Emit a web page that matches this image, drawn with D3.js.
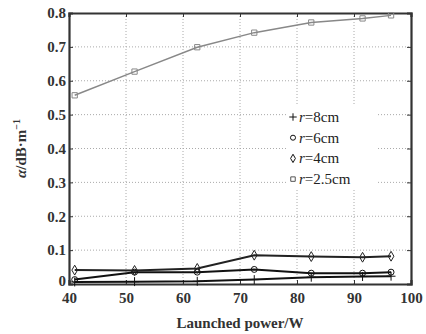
<!DOCTYPE html>
<html>
<head>
<meta charset="utf-8">
<script src="https://cdn.jsdelivr.net/npm/d3@7"></script>
<style>
body{margin:0;background:#fff;}
svg{display:block;}
</style>
</head>
<body>
<svg id="svg" width="426" height="334"></svg>
<script>
// launched power (W) for each measurement
var power=[41,51.5,62.5,72.5,82.5,91.5,96.5];
var r8=[0.006,0.007,0.008,0.013,0.020,0.022,0.023];
var r6=[0.013,0.035,0.035,0.043,0.032,0.032,0.035];
var r4=[0.041,0.040,0.046,0.085,0.081,0.079,0.082];
var r25=[0.557,0.627,0.699,0.742,0.772,0.784,0.793];
var names=["8cm","6cm","4cm","2.5cm"];
var xTicks=[40,50,60,70,80,90,100];
var yTicks=[0,0.1,0.2,0.3,0.4,0.5,0.6,0.7,0.8];

var W=426,H=334,m={l:69,r:15,t:13,b:50};
var svg=d3.select("#svg");
var x=d3.scaleLinear().domain([40,100]).range([m.l,W-m.r]);
var y=d3.scaleLinear().domain([0,0.8]).range([H-m.b,m.t]);
var font="'Liberation Serif','Times New Roman',serif";

// grid
svg.append("g").selectAll("line").data(xTicks.slice(1,-1)).enter().append("line")
  .attr("x1",function(d){return x(d)}).attr("x2",function(d){return x(d)})
  .attr("y1",y(0)).attr("y2",y(0.8))
  .attr("stroke","#aaa").attr("stroke-width",1).attr("stroke-dasharray","1,2");
svg.append("g").selectAll("line").data(yTicks.slice(1,-1)).enter().append("line")
  .attr("y1",function(d){return y(d)}).attr("y2",function(d){return y(d)})
  .attr("x1",x(40)).attr("x2",x(100))
  .attr("stroke","#aaa").attr("stroke-width",1).attr("stroke-dasharray","1,2");

// legend background hides the grid
svg.append("rect").attr("x",286).attr("y",105).attr("width",90).attr("height",84).attr("fill","#fff");

// axes
var fmt=function(d){return d===0?"0":d3.format(".1f")(d)};
var ax=[
  svg.append("g").attr("transform","translate(0,"+y(0)+")").call(d3.axisBottom(x).tickValues(xTicks).tickSize(-4).tickPadding(8)),
  svg.append("g").attr("transform","translate(0,"+y(0.8)+")").call(d3.axisTop(x).tickValues(xTicks).tickSize(-4).tickFormat("")),
  svg.append("g").attr("transform","translate("+x(40)+",0)").call(d3.axisLeft(y).tickValues(yTicks).tickSize(-4).tickPadding(3).tickFormat(fmt)),
  svg.append("g").attr("transform","translate("+x(100)+",0)").call(d3.axisRight(y).tickValues(yTicks).tickSize(-4).tickFormat(""))
];
ax.forEach(function(g){
  g.select(".domain").attr("stroke","#333").attr("stroke-width",2.2);
  g.selectAll(".tick line").attr("stroke","#333").attr("stroke-width",1);
  g.selectAll("text").attr("font-family",font).attr("font-size",15).attr("font-weight","bold").attr("fill","#333");
});
// lift the zero label a little so it clears the "40"
ax[2].selectAll(".tick text").filter(function(d){return d===0}).attr("dy","0.1em");

// series
var series=[
  {v:r8,sym:d3.symbolPlus,col:"#111",w:2,fill:"#111"},
  {v:r6,sym:d3.symbolCircle,col:"#111",w:2,fill:"none"},
  {v:r4,sym:d3.symbolDiamond,col:"#222",w:2,fill:"none"},
  {v:r25,sym:d3.symbolSquare,col:"#888",w:1.5,fill:"none"}
];
var line=d3.line().x(function(d){return x(d[0])}).y(function(d){return y(d[1])});
series.forEach(function(s){
  var pts=power.map(function(p,i){return [p,s.v[i]]});
  svg.append("path").datum(pts).attr("d",line)
    .attr("fill","none").attr("stroke",s.col).attr("stroke-width",s.w);
  svg.append("g").selectAll("path").data(pts).enter().append("path")
    .attr("d",d3.symbol().type(s.sym).size(28))
    .attr("transform",function(d){return "translate("+x(d[0])+","+y(d[1])+")"})
    .attr("fill",s.fill).attr("stroke",s.col).attr("stroke-width",1);
});

// legend
var lg=svg.append("g").attr("transform","translate(293,117)");
names.forEach(function(n,i){
  var s=series[i];
  var row=lg.append("g").attr("transform","translate(0,"+(i*20.7)+")");
  row.append("path").attr("d",d3.symbol().type(s.sym).size(20))
    .attr("fill",s.fill).attr("stroke",i==3?"#555":"#111").attr("stroke-width",1);
  var t=row.append("text").attr("x",6).attr("y",5)
    .attr("font-family",font).attr("font-size",15).attr("fill","#222");
  t.append("tspan").attr("font-style","italic").text("r");
  t.append("tspan").text("="+n);
});

// axis titles
svg.append("text").attr("x",x(70)).attr("y",328).attr("text-anchor","middle")
  .attr("font-family",font).attr("font-size",15).attr("font-weight","bold").attr("fill","#333")
  .text("Launched power/W");
var yl=svg.append("text").attr("transform","translate(26,"+((m.t+H-m.b)/2)+") rotate(-90)")
  .attr("text-anchor","middle").attr("font-family",font).attr("font-size",15).attr("font-weight","bold").attr("fill","#333");
yl.append("tspan").attr("font-style","italic").text("α");
yl.append("tspan").text("/dB·m");
yl.append("tspan").attr("dy",-6).attr("font-size",10).text("−1");
</script>
</body>
</html>
